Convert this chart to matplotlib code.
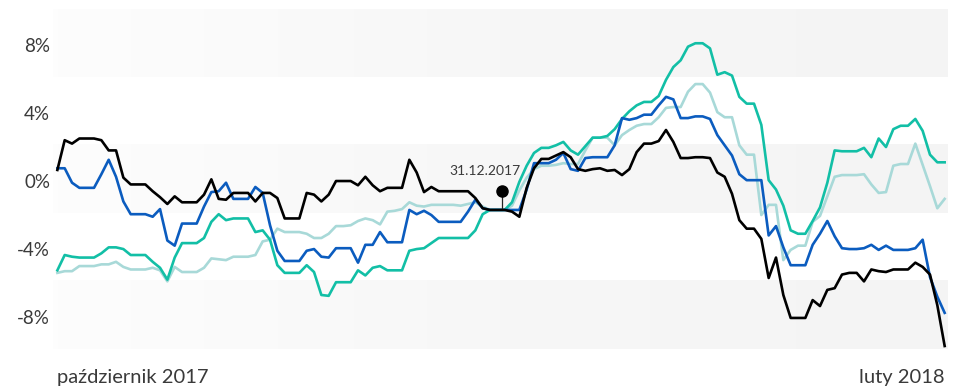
import numpy as np
import matplotlib
matplotlib.use("Agg")
from matplotlib import pyplot as plt
from matplotlib.colors import LinearSegmentedColormap

# values in %, one point per trading day, oct 2017 -> feb 2018
black = [0.65, 2.4, 2.2, 2.5, 2.5, 2.5, 2.4, 1.8, 1.8, 0.2,
         -0.2, -0.2, -0.2, -0.6, -0.95, -1.35, -0.9, -1.25, -1.25, -1.25,
         -0.8, 0.1, -1.05, -1.1, -0.7, -0.7, -0.7, -1.2, -0.7, -0.7,
         -1.0, -2.2, -2.2, -2.2, -0.7, -0.8, -1.2, -0.8, 0.0, 0.0,
         0.0, -0.25, 0.25, -0.25, -0.6, -0.4, -0.4, -0.4, 1.25, 0.5,
         -0.65, -0.35, -0.6, -0.6, -0.6, -0.6, -0.6, -1.0, -1.6, -1.7,
         -1.7, -1.7, -1.8, -2.1, -0.4, 0.75, 1.3, 1.3, 1.5, 1.7,
         1.4, 0.7, 0.6, 0.7, 0.75, 0.6, 0.65, 0.35, 0.7, 1.7,
         2.2, 2.2, 2.35, 3.0, 2.3, 1.35, 1.35, 1.4, 1.4, 1.35,
         0.5, 0.25, -0.75, -2.3, -2.8, -2.8, -3.4, -5.7, -4.5, -6.7,
         -8.05, -8.05, -8.05, -7.0, -7.35, -6.4, -6.3, -5.5, -5.4, -5.4,
         -5.9, -5.2, -5.3, -5.35, -5.2, -5.2, -5.2, -4.8, -5.05, -5.5,
         -7.3, -9.7]

blue = [0.75, 0.75, -0.1, -0.4, -0.4, -0.4, 0.4, 1.25, 0.25, -1.2,
        -1.95, -1.95, -1.95, -2.1, -1.65, -3.5, -3.8, -2.5, -2.5, -2.5,
        -1.5, -0.65, -0.6, -0.1, -1.05, -1.05, -1.05, -0.35, -0.7, -2.6,
        -4.1, -4.7, -4.7, -4.7, -4.1, -4.0, -4.45, -4.5, -3.95, -3.95,
        -3.95, -4.8, -3.75, -3.75, -3.0, -3.6, -3.6, -3.6, -1.7, -1.95,
        -1.75, -2.0, -2.4, -2.4, -2.4, -2.4, -1.8, -1.1, -1.6, -1.7,
        -1.7, -1.7, -1.7, -1.7, -0.5, 1.05, 1.05, 1.05, 1.25, 1.65,
        0.7, 0.6, 1.35, 1.4, 1.4, 1.4, 2.1, 3.7, 3.6, 3.7,
        3.9, 3.9, 4.45, 4.95, 4.8, 3.7, 3.7, 3.8, 3.8, 3.65,
        2.7, 2.1, 1.5, 0.4, 0.05, 0.05, 0.05, -3.2, -2.65, -3.9,
        -4.95, -4.95, -4.95, -3.75, -3.1, -2.35, -3.25, -3.95, -4.0, -4.0,
        -3.95, -3.75, -4.05, -3.8, -4.05, -4.05, -4.05, -3.95, -3.45, -5.65,
        -6.8, -7.75]

teal = [-5.25, -4.35, -4.45, -4.5, -4.5, -4.5, -4.25, -3.9, -3.9, -4.0,
        -4.35, -4.35, -4.35, -4.75, -5.1, -5.8, -4.5, -3.65, -3.65, -3.65,
        -3.35, -2.4, -1.95, -2.3, -2.2, -2.2, -2.2, -3.0, -2.9, -3.45,
        -4.95, -5.4, -5.4, -5.4, -4.95, -5.35, -6.7, -6.75, -5.95, -5.95,
        -5.95, -5.25, -5.55, -5.1, -5.0, -5.25, -5.25, -5.25, -4.1, -4.0,
        -3.95, -3.65, -3.35, -3.35, -3.35, -3.35, -3.35, -2.9, -1.95, -1.7,
        -1.7, -1.7, -1.25, -0.05, 0.9, 1.65, 1.95, 1.95, 2.1, 2.3,
        1.8, 1.55, 2.05, 2.55, 2.55, 2.65, 3.05, 3.65, 4.1, 4.45,
        4.65, 4.65, 5.0, 5.95, 6.7, 7.1, 7.9, 8.1, 8.1, 7.8,
        6.25, 6.4, 6.2, 4.95, 4.55, 4.55, 3.3, 0.05, -0.5, -1.45,
        -2.9, -3.1, -3.1, -2.35, -1.55, -0.1, 1.8, 1.75, 1.75, 1.75,
        1.95, 1.4, 2.5, 2.0, 3.05, 3.25, 3.25, 3.65, 2.95, 1.55,
        1.1, 1.1]

light = [-5.4, -5.3, -5.3, -5.0, -5.0, -5.0, -4.9, -4.9, -4.75, -5.05,
         -5.2, -5.2, -5.2, -5.1, -5.25, -5.9, -5.05, -5.35, -5.35, -5.35,
         -5.1, -4.55, -4.6, -4.65, -4.45, -4.45, -4.45, -4.35, -3.55, -3.45,
         -2.8, -3.0, -3.0, -3.0, -3.1, -3.35, -3.35, -3.1, -2.65, -2.65,
         -2.6, -2.35, -2.2, -2.3, -2.55, -1.8, -1.75, -1.65, -1.25, -1.45,
         -1.5, -1.4, -1.4, -1.4, -1.4, -1.45, -1.35, -1.25, -1.5, -1.7,
         -1.7, -1.7, -1.45, -0.55, 0.2, 0.7, 0.9, 0.9, 0.95, 1.05,
         1.0, 1.0, 1.8, 2.55, 2.55, 2.55, 2.1, 2.7, 3.0, 3.25,
         3.35, 3.35, 3.75, 4.3, 4.35, 4.35, 5.25, 5.7, 5.7, 5.2,
         4.05, 3.75, 3.75, 2.1, 1.55, 1.55, -2.0, -1.4, -1.4, -4.65,
         -4.05, -3.8, -3.8, -2.4, -2.05, -0.9, 0.25, 0.35, 0.35, 0.35,
         0.4, -0.2, -0.7, -0.65, 0.9, 1.0, 1.0, 2.2, 0.95, -0.3,
         -1.6, -1.05]

yticks = [8, 4, 0, -4, -8]
ytick_labels = ["8%", "4%", "0%", "-4%", "-8%"]
xlabels = ["październik 2017", "luty 2018"]
marker_day = 60.7       # 31.12.2017
marker_label = "31.12.2017"

plt.rcParams['font.family'] = ['Lato', 'DejaVu Sans']

fig = plt.figure(figsize=(9.63, 3.87), dpi=100)
ax = fig.add_axes([0.055, 0.098, 0.929, 0.879])

x = np.arange(len(black))
ax.set_xlim(-0.6, len(black) - 1 + 0.4)
ax.set_ylim(-9.88, 10.12)

# grey bands with a faint left-to-right gradient
grad = LinearSegmentedColormap.from_list("g", ["#fdfdfd", "#f7f7f7", "#f4f4f4"])
xl = ax.get_xlim()
for lo in [6, -2, -10]:
    ax.imshow(np.linspace(0, 1, 256).reshape(1, -1), cmap=grad, aspect="auto",
              extent=(xl[0], xl[1], lo + 0.12, lo + 4.12), zorder=0,
              interpolation="bilinear")
ax.set_xlim(xl)
ax.set_ylim(-9.88, 10.12)

ax.plot(x, light, color="#a8d9d8", lw=1.9, zorder=2)
ax.plot(x, teal, color="#12bfa6", lw=1.9, zorder=3)
ax.plot(x, blue, color="#0b5cbf", lw=1.9, zorder=4)
ax.plot(x, black, color="#000000", lw=1.9, zorder=5)

# 31.12.2017 marker
ax.plot([marker_day, marker_day], [-1.6, -0.6], color="#222222", lw=0.9, zorder=6)
ax.plot(marker_day, -0.6, "o", color="#000000", ms=8, zorder=7)
ax.text(marker_day - 2.4, 0.6, marker_label, ha="center", va="center",
        fontsize=10, color="#3a3a3a", zorder=7)

ax.set_yticks(yticks)
ax.set_yticklabels(ytick_labels)
ax.set_xticks([0, len(black) - 1])
ax.set_xticklabels(xlabels)
labs = ax.get_xticklabels()
labs[0].set_ha("left")
labs[1].set_ha("right")
ax.tick_params(length=0, labelsize=13.5, colors="#3a3a3a")
ax.tick_params(axis="y", pad=2)
ax.tick_params(axis="x", pad=14, labelsize=14.5)
for s in ax.spines.values():
    s.set_visible(False)

fig.savefig("out.png", dpi=100)
